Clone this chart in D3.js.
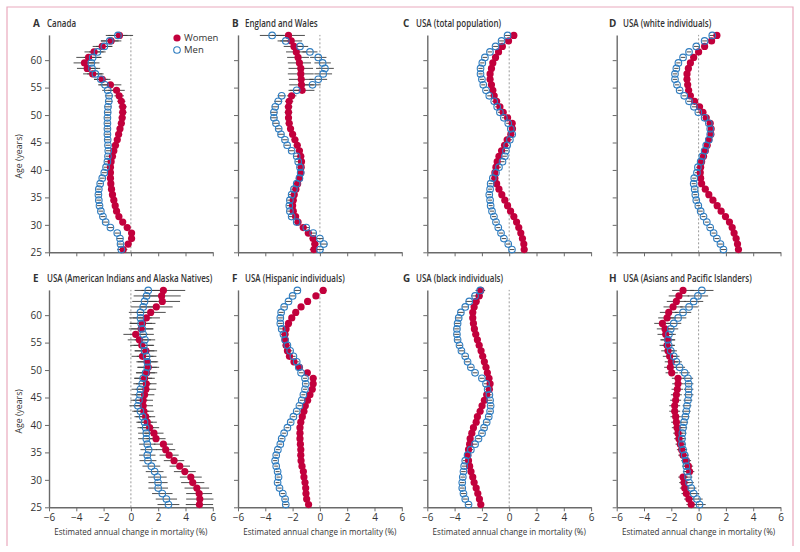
<!DOCTYPE html>
<html><head><meta charset="utf-8">
<script src="https://cdn.jsdelivr.net/npm/d3@7"></script>
<style>
body{margin:0;background:#fff}
svg{display:block}
text{font-family:"Open Sans","Noto Sans",sans-serif;fill:#333}
</style></head>
<body><svg id="chart" width="800" height="552"></svg>
<script>
// ---------- data ----------
const ages = [25,26,27,28,29,30,31,32,33,34,35,36,37,38,39,40,41,42,43,44,45,46,47,48,49,50,51,52,53,54,55,56,57,58,59,60,61,62,63,64];
const xTicks = [-6,-4,-2,0,2,4,6];
const yTicks = [25,30,35,40,45,50,55,60];

const canadaWomen = [-0.56,-0.2,0.05,0.05,-0.27,-0.6,-0.88,-1.05,-1.15,-1.25,-1.35,-1.42,-1.47,-1.5,-1.5,-1.5,-1.45,-1.35,-1.25,-1.13,-1.0,-0.9,-0.8,-0.7,-0.64,-0.6,-0.6,-0.7,-0.86,-1.05,-1.5,-2.1,-2.8,-3.2,-3.4,-3.1,-2.7,-2.1,-1.45,-0.84];
const canadaMen   = [-0.7,-0.76,-0.8,-1.0,-1.5,-1.85,-2.05,-2.2,-2.3,-2.35,-2.38,-2.35,-2.25,-2.1,-1.95,-1.82,-1.72,-1.68,-1.66,-1.68,-1.7,-1.72,-1.72,-1.72,-1.72,-1.7,-1.68,-1.62,-1.6,-1.7,-1.9,-2.2,-2.6,-2.85,-2.9,-2.8,-2.45,-1.95,-1.55,-0.95];
const canadaCiW   = [0.3,0.25,0.25,0.25,0.22,0.2,0.2,0.2,0.2,0.2,0.2,0.2,0.2,0.2,0.2,0.2,0.2,0.2,0.2,0.2,0.22,0.22,0.22,0.25,0.25,0.28,0.3,0.3,0.35,0.6,0.8,0.6,0.7,0.75,0.8,0.9,0.7,0.7,0.75,1.0];
const canadaCiM   = [0.3,0.25,0.22,0.2,0.2,0.2,0.18,0.18,0.18,0.18,0.18,0.18,0.18,0.18,0.18,0.18,0.18,0.18,0.18,0.18,0.2,0.2,0.2,0.2,0.22,0.25,0.25,0.28,0.3,0.4,0.5,0.5,0.6,0.6,0.6,0.65,0.6,0.6,0.65,0.7];

const englandWomen = [-0.44,-0.37,-0.5,-0.85,-1.22,-1.6,-1.78,-1.95,-2.0,-1.95,-1.88,-1.76,-1.63,-1.5,-1.4,-1.37,-1.35,-1.4,-1.5,-1.66,-1.83,-2.0,-2.15,-2.25,-2.3,-2.3,-2.3,-2.25,-2.07,-1.3,-1.35,-1.37,-1.4,-1.4,-1.5,-1.6,-1.73,-1.9,-2.1,-2.3];
const englandMen   = [0.0,0.29,0.0,-0.49,-1.0,-1.7,-2.07,-2.2,-2.24,-2.2,-2.07,-1.9,-1.7,-1.5,-1.41,-1.46,-1.59,-1.7,-2.07,-2.4,-2.56,-2.85,-3.02,-3.22,-3.37,-3.37,-3.27,-3.05,-2.8,-1.7,-0.54,-0.12,0.24,0.37,0.2,-0.12,-0.73,-1.46,-2.5,-3.5];
const englandCiW   = [0.3,0.28,0.25,0.25,0.22,0.22,0.22,0.22,0.22,0.22,0.22,0.22,0.22,0.22,0.22,0.22,0.22,0.22,0.22,0.25,0.25,0.25,0.25,0.25,0.25,0.28,0.28,0.3,0.35,0.9,0.9,0.9,0.95,0.9,0.85,0.8,0.75,0.75,0.8,1.2];
const englandCiM   = [0.3,0.28,0.25,0.22,0.2,0.2,0.2,0.2,0.2,0.2,0.2,0.2,0.2,0.2,0.2,0.2,0.2,0.2,0.2,0.2,0.2,0.22,0.22,0.22,0.25,0.25,0.25,0.3,0.3,0.6,0.6,0.65,0.65,0.65,0.6,0.6,0.55,0.6,0.6,0.9];

const usTotalWomen = [1.1,1.07,0.97,0.85,0.7,0.54,0.34,0.1,-0.12,-0.32,-0.54,-0.75,-0.92,-1.05,-1.05,-0.97,-0.88,-0.75,-0.56,-0.34,-0.15,0.12,0.24,0.22,-0.12,-0.44,-0.68,-0.92,-1.1,-1.2,-1.3,-1.4,-1.4,-1.3,-1.2,-1.0,-0.78,-0.5,-0.05,0.34];
const usTotalMen   = [0.2,-0.07,-0.39,-0.6,-0.8,-0.97,-1.12,-1.26,-1.36,-1.4,-1.46,-1.4,-1.36,-1.2,-0.97,-0.75,-0.49,-0.32,-0.24,-0.15,0.05,0.22,0.12,-0.07,-0.39,-0.68,-0.88,-1.1,-1.46,-1.7,-1.9,-2.0,-2.1,-2.1,-1.97,-1.78,-1.41,-1.0,-0.56,-0.12];
const usTotalCiW   = [0.12,0.12,0.12,0.12,0.12,0.12,0.12,0.12,0.12,0.12,0.12,0.12,0.12,0.12,0.12,0.12,0.12,0.12,0.12,0.12,0.12,0.12,0.12,0.12,0.12,0.12,0.12,0.12,0.12,0.12,0.12,0.13,0.13,0.13,0.13,0.14,0.14,0.15,0.15,0.16];
const usTotalCiM   = [0.18,0.17,0.16,0.16,0.15,0.15,0.15,0.15,0.15,0.15,0.15,0.15,0.15,0.15,0.15,0.15,0.15,0.15,0.15,0.15,0.15,0.15,0.15,0.15,0.15,0.15,0.15,0.15,0.15,0.15,0.15,0.16,0.16,0.16,0.16,0.17,0.17,0.18,0.18,0.2];

const usWhiteWomen = [2.92,2.85,2.75,2.6,2.46,2.26,1.97,1.65,1.36,1.05,0.75,0.49,0.22,0.15,0.12,0.15,0.22,0.36,0.49,0.63,0.75,0.9,0.92,0.85,0.56,0.32,0.07,-0.29,-0.6,-0.73,-0.8,-0.85,-0.85,-0.75,-0.6,-0.36,0.0,0.44,0.95,1.34];
const usWhiteMen   = [1.82,1.6,1.34,1.1,0.85,0.6,0.36,0.15,-0.02,-0.17,-0.24,-0.29,-0.36,-0.32,-0.12,-0.05,0.15,0.27,0.44,0.56,0.75,0.85,0.85,0.75,0.44,-0.02,-0.34,-0.7,-1.05,-1.39,-1.58,-1.73,-1.73,-1.63,-1.48,-1.14,-0.7,-0.17,0.44,1.0];
const usWhiteCiW   = [0.12,0.12,0.12,0.12,0.12,0.12,0.12,0.12,0.12,0.12,0.12,0.12,0.12,0.12,0.12,0.12,0.12,0.12,0.12,0.12,0.12,0.12,0.12,0.12,0.12,0.12,0.12,0.12,0.12,0.12,0.12,0.13,0.13,0.13,0.13,0.14,0.14,0.15,0.15,0.16];
const usWhiteCiM   = [0.2,0.18,0.17,0.16,0.16,0.15,0.15,0.15,0.15,0.15,0.15,0.15,0.15,0.15,0.15,0.15,0.15,0.15,0.15,0.15,0.15,0.15,0.15,0.15,0.15,0.15,0.15,0.15,0.15,0.15,0.15,0.16,0.16,0.16,0.16,0.17,0.17,0.18,0.18,0.2];

const usAianWomen = [5.02,5.05,5.0,4.83,4.53,4.39,3.95,3.58,3.16,2.8,2.55,2.38,1.84,1.69,1.37,1.2,1.08,0.95,0.9,0.9,1.0,1.1,1.13,1.0,1.15,1.27,1.2,0.85,1.1,0.8,0.62,0.35,0.75,0.85,1.13,1.45,1.86,2.3,2.25,2.38];
const usAianMen   = [2.75,2.6,2.3,2.0,1.99,1.94,1.74,1.5,1.25,1.2,1.3,1.2,1.13,1.13,1.08,1.0,0.86,0.7,0.51,0.59,0.66,0.7,0.83,0.9,1.08,1.2,1.2,1.15,1.0,0.95,1.03,0.9,0.83,0.75,0.7,0.7,0.9,1.0,1.15,1.27];
const usAianCiW   = [1.0,1.0,0.95,0.9,0.85,0.8,0.8,0.75,0.75,0.7,0.7,0.7,0.7,0.7,0.7,0.7,0.7,0.72,0.72,0.72,0.72,0.75,0.75,0.75,0.78,0.8,0.8,0.8,0.82,0.85,0.85,0.9,0.9,0.95,1.0,1.1,1.2,1.3,1.4,1.6];
const usAianCiM   = [0.8,0.78,0.75,0.72,0.7,0.68,0.65,0.65,0.62,0.6,0.6,0.6,0.6,0.6,0.6,0.6,0.6,0.6,0.62,0.62,0.62,0.65,0.65,0.65,0.68,0.7,0.7,0.72,0.72,0.75,0.75,0.78,0.8,0.8,0.82,0.85,0.88,0.9,0.95,1.0];

const usHispWomen = [-0.83,-0.97,-1.02,-1.04,-1.09,-1.17,-1.21,-1.31,-1.38,-1.4,-1.4,-1.43,-1.46,-1.46,-1.46,-1.4,-1.29,-1.17,-1.07,-0.9,-0.73,-0.56,-0.49,-0.49,-0.92,-1.5,-1.9,-2.23,-2.38,-2.48,-2.55,-2.55,-2.48,-2.3,-2.06,-1.77,-1.38,-0.9,-0.29,0.24];
const usHispMen   = [-2.5,-2.55,-2.72,-2.96,-3.1,-3.03,-3.1,-3.2,-3.28,-3.2,-3.08,-2.9,-2.8,-2.62,-2.38,-2.14,-1.94,-1.7,-1.5,-1.33,-1.21,-1.09,-1.04,-1.09,-1.38,-1.55,-1.7,-1.94,-2.18,-2.38,-2.55,-2.67,-2.8,-2.9,-2.9,-2.84,-2.62,-2.3,-2.0,-1.65];
const usHispCiW   = [0.15,0.15,0.15,0.14,0.14,0.14,0.14,0.14,0.14,0.14,0.14,0.14,0.14,0.14,0.14,0.14,0.14,0.14,0.14,0.14,0.14,0.14,0.14,0.14,0.15,0.15,0.15,0.15,0.15,0.16,0.16,0.17,0.17,0.18,0.18,0.19,0.2,0.2,0.22,0.25];
const usHispCiM   = [0.18,0.17,0.16,0.16,0.15,0.15,0.15,0.15,0.15,0.15,0.15,0.15,0.15,0.15,0.15,0.15,0.15,0.15,0.15,0.15,0.15,0.15,0.15,0.15,0.16,0.16,0.16,0.16,0.17,0.17,0.17,0.18,0.18,0.18,0.19,0.19,0.2,0.2,0.22,0.24];

const usBlackWomen = [-2.08,-2.18,-2.3,-2.42,-2.57,-2.67,-2.8,-2.9,-2.98,-3.03,-2.98,-2.9,-2.86,-2.74,-2.62,-2.42,-2.33,-2.13,-1.99,-1.82,-1.65,-1.45,-1.4,-1.48,-1.6,-1.7,-1.82,-1.94,-2.06,-2.2,-2.33,-2.45,-2.55,-2.62,-2.67,-2.67,-2.57,-2.42,-2.2,-2.08];
const usBlackMen   = [-2.98,-3.22,-3.35,-3.44,-3.44,-3.4,-3.35,-3.3,-3.22,-3.05,-2.81,-2.5,-2.25,-1.99,-1.84,-1.65,-1.5,-1.4,-1.36,-1.4,-1.45,-1.58,-1.7,-2.0,-2.5,-2.81,-3.05,-3.22,-3.5,-3.64,-3.78,-3.83,-3.83,-3.78,-3.7,-3.54,-3.22,-2.93,-2.5,-2.13];
const usBlackCiW   = [0.15,0.15,0.15,0.15,0.15,0.15,0.15,0.15,0.15,0.15,0.15,0.15,0.15,0.15,0.15,0.15,0.15,0.15,0.15,0.15,0.15,0.15,0.15,0.15,0.16,0.16,0.16,0.17,0.17,0.17,0.18,0.18,0.19,0.19,0.2,0.2,0.22,0.24,0.28,0.32];
const usBlackCiM   = [0.2,0.19,0.18,0.18,0.17,0.17,0.17,0.17,0.17,0.17,0.17,0.17,0.17,0.17,0.17,0.17,0.17,0.17,0.17,0.17,0.17,0.17,0.17,0.17,0.18,0.18,0.18,0.18,0.19,0.19,0.2,0.2,0.2,0.21,0.22,0.22,0.24,0.26,0.3,0.34];

const usAsianWomen = [-0.54,-0.71,-0.9,-1.02,-1.07,-1.14,-0.66,-0.75,-0.9,-1.14,-1.24,-1.34,-1.44,-1.51,-1.58,-1.63,-1.68,-1.75,-1.75,-1.68,-1.63,-1.56,-1.51,-1.51,-1.97,-2.07,-2.0,-2.12,-2.24,-2.31,-2.26,-2.41,-2.46,-2.65,-2.31,-2.19,-1.87,-1.63,-1.44,-1.14];
const usAsianMen   = [0.07,-0.12,-0.36,-0.54,-0.7,-0.78,-0.85,-0.9,-0.95,-1.02,-1.14,-1.22,-1.22,-1.19,-1.14,-1.07,-0.97,-0.9,-0.85,-0.78,-0.73,-0.73,-0.73,-0.78,-1.02,-1.39,-1.63,-1.82,-2.04,-2.19,-2.24,-2.17,-2.04,-1.82,-1.5,-1.14,-0.7,-0.36,-0.05,0.24];
const usAsianCiW   = [0.35,0.35,0.35,0.35,0.35,0.35,0.35,0.35,0.35,0.35,0.35,0.35,0.35,0.35,0.38,0.38,0.38,0.4,0.4,0.4,0.4,0.42,0.42,0.45,0.45,0.45,0.48,0.5,0.5,0.55,0.55,0.6,0.6,0.6,0.65,0.65,0.7,0.7,0.75,0.8];
const usAsianCiM   = [0.45,0.42,0.4,0.38,0.35,0.32,0.3,0.3,0.3,0.3,0.3,0.3,0.3,0.3,0.3,0.3,0.3,0.32,0.32,0.32,0.35,0.35,0.35,0.38,0.38,0.4,0.4,0.42,0.45,0.45,0.5,0.5,0.55,0.55,0.6,0.6,0.65,0.7,0.75,0.85];

const panelLetters = ["A","B","C","D","E","F","G","H"];
const panelNames = ["Canada","England and Wales","USA (total population)","USA (white individuals)",
  "USA (American Indians and Alaska Natives)","USA (Hispanic individuals)","USA (black individuals)","USA (Asians and Pacific Islanders)"];
const seriesLabels = ["Women","Men"];
const xLabel = "Estimated annual change in mortality (%)";
const yLabel = "Age (years)";

// table built from the arrays
const panels = [
  [canadaWomen, canadaMen, canadaCiW, canadaCiM],
  [englandWomen, englandMen, englandCiW, englandCiM],
  [usTotalWomen, usTotalMen, usTotalCiW, usTotalCiM],
  [usWhiteWomen, usWhiteMen, usWhiteCiW, usWhiteCiM],
  [usAianWomen, usAianMen, usAianCiW, usAianCiM],
  [usHispWomen, usHispMen, usHispCiW, usHispCiM],
  [usBlackWomen, usBlackMen, usBlackCiW, usBlackCiM],
  [usAsianWomen, usAsianMen, usAsianCiW, usAsianCiM]
].map((p, i) => ({letter: panelLetters[i], name: panelNames[i], women: p[0], men: p[1], ciW: p[2], ciM: p[3]}));

// ---------- layout ----------
const colX = [49, 238, 427.3, 616.7];
const rowBottom = [252.3, 507.3];
const panelW = 163.8;
const perYear = 5.49;
const ageTop = 64.6;
const letterX = [33, 232, 403, 609];
const nameX = [47, 245, 416, 623];
const CONDENSE = 0.8;
const WOMEN = "#c2003c", MEN = "#2f7dc0", BAR = "#3a3a3a", AXIS = "#6a6a6a";

const svg = d3.select("#chart");

// pink frame
svg.append("path")
  .attr("d", "M7,546 V7 H793 V546")
  .attr("fill", "none").attr("stroke", "#eaa9bd").attr("stroke-width", 1.2);

panels.forEach((p, i) => {
  const col = i % 4, row = Math.floor(i / 4);
  const x0 = colX[col], yb = rowBottom[row];
  const x = d3.scaleLinear().domain([-6, 6]).range([x0, x0 + panelW]);
  const y = d3.scaleLinear().domain([25, ageTop]).range([yb, yb - (ageTop - 25) * perYear]);
  const g = svg.append("g");

  // zero reference line
  g.append("line")
    .attr("x1", x(0)).attr("x2", x(0)).attr("y1", y(25)).attr("y2", y(ageTop))
    .attr("stroke", "#9a9a9a").attr("stroke-width", 1).attr("stroke-dasharray", "2,2");

  // axes
  const ax = g.append("g").attr("transform", `translate(0,${yb})`)
    .call(d3.axisBottom(x).tickValues(xTicks).tickSize(4).tickSizeOuter(0).tickPadding(3)
      .tickFormat(row === 1 ? d3.format("d") : () => ""));
  const ay = g.append("g").attr("transform", `translate(${x0},0)`)
    .call(d3.axisLeft(y).tickValues(yTicks).tickSize(4).tickSizeOuter(0).tickPadding(3)
      .tickFormat(col === 0 ? d3.format("d") : () => ""));
  [ax, ay].forEach(a => {
    a.select(".domain").attr("stroke", AXIS).attr("stroke-width", 1.4);
    a.selectAll(".tick line").attr("stroke", AXIS).attr("stroke-width", 1);
    a.selectAll(".tick text").attr("fill", "#444").style("font-size", "10px")
      .style("font-family", '"Open Sans","Noto Sans",sans-serif');
  });

  // error bars (under markers)
  const bars = g.append("g").attr("stroke", BAR).attr("stroke-width", 0.9);
  [[p.women, p.ciW], [p.men, p.ciM]].forEach(([vals, ci]) => {
    bars.selectAll(null).data(ages).enter().append("line")
      .attr("x1", (a, k) => x(vals[k] - ci[k])).attr("x2", (a, k) => x(vals[k] + ci[k]))
      .attr("y1", a => y(a + 0.5)).attr("y2", a => y(a + 0.5));
  });

  // women (filled)
  g.append("g").selectAll("circle").data(ages).enter().append("circle")
    .attr("cx", (a, k) => x(p.women[k])).attr("cy", a => y(a + 0.5)).attr("r", 3.6)
    .attr("fill", WOMEN);
  // men (open)
  g.append("g").selectAll("circle").data(ages).enter().append("circle")
    .attr("cx", (a, k) => x(p.men[k])).attr("cy", a => y(a + 0.5)).attr("r", 3.3)
    .attr("fill", "none").attr("stroke", MEN).attr("stroke-width", 1.1);

  // title (condensed face)
  const ty = yb - 225.5;
  svg.append("text").attr("transform", `translate(${letterX[col]},${ty}) scale(0.9,1)`)
    .style("font-size", "11px").style("font-weight", 700).attr("fill", "#222").text(p.letter);
  svg.append("text").attr("transform", `translate(${nameX[col]},${ty}) scale(${CONDENSE},1)`)
    .style("font-size", "10px").style("font-weight", 600).attr("fill", "#222").text(p.name);

  // axis labels
  if (col === 0) {
    svg.append("text").attr("transform", `translate(22,${yb - 96}) rotate(-90) scale(0.92,1)`)
      .attr("text-anchor", "middle").style("font-size", "9.5px").attr("fill", "#444").text(yLabel);
  }
  if (row === 1) {
    svg.append("text").attr("transform", `translate(${x(0)},${yb + 28}) scale(0.85,1)`)
      .attr("text-anchor", "middle").style("font-size", "9.5px").attr("fill", "#444").text(xLabel);
  }
});

// legend
const lg = svg.append("g");
lg.append("circle").attr("cx", 177).attr("cy", 38).attr("r", 3.6).attr("fill", WOMEN);
lg.append("circle").attr("cx", 177).attr("cy", 50).attr("r", 3.3).attr("fill", "none").attr("stroke", MEN).attr("stroke-width", 1.1);
lg.selectAll("text").data(seriesLabels).enter().append("text")
  .attr("x", 184).attr("y", (d, i) => 41.3 + i * 12).style("font-size", "9.5px").attr("fill", "#444").text(d => d);
</script>
</body></html>
